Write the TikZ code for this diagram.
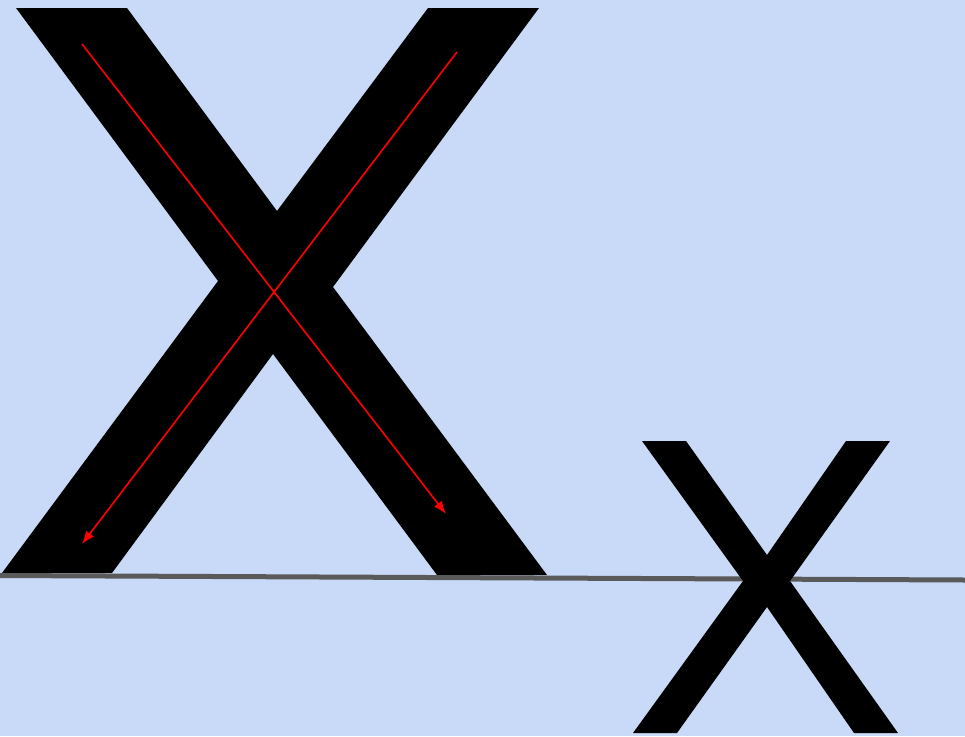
\documentclass[tikz,border=0pt]{standalone}
\usetikzlibrary{arrows.meta}
\definecolor{bgblue}{RGB}{201,218,248}
\definecolor{basegray}{RGB}{90,90,90}
\definecolor{arrowred}{RGB}{255,0,0}
\tikzset{
  glyph/.style={fill=black, draw=none},
  baseline rule/.style={draw=basegray, line width=5pt},
  diag arrow/.style={draw=arrowred, line width=1.6pt, -{Latex[length=13pt,width=10pt]}}
}
\begin{document}
\begin{tikzpicture}[x=1pt,y=-1pt]
  \fill[bgblue] (0,0) rectangle (965,736);
  \useasboundingbox (0,0) rectangle (965,736);
  % big X
  \path[glyph] (16,8) -- (127,8) -- (277,211) -- (428,8) -- (539,8) -- (333,287)
    -- (547,575) -- (437,575) -- (273,354) -- (112,573) -- (2,573) -- (218,281) -- cycle;
  % baseline
  \coordinate (bl) at (0,575.5);
  \coordinate (br) at (965,580);
  \draw[baseline rule] (bl) -- (br);
  % small x
  \path[glyph] (642,441) -- (686,441) -- (767,555) -- (846,441) -- (890,441) -- (790,581)
    -- (898,733) -- (854,733) -- (767,607) -- (677,733) -- (633,733) -- (743,581) -- cycle;
  % red arrows
  \coordinate (a1s) at (82,44);
  \coordinate (a1e) at (446,514);
  \coordinate (a2s) at (457,52);
  \coordinate (a2e) at (82,544);
  \draw[diag arrow] (a1s) -- (a1e);
  \draw[diag arrow] (a2s) -- (a2e);
\end{tikzpicture}
\end{document}
